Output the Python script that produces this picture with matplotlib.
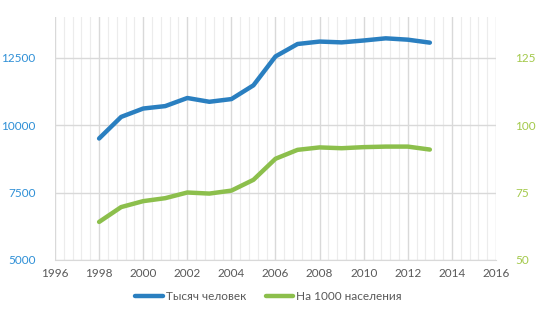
import matplotlib
matplotlib.use("Agg")
import matplotlib.pyplot as plt
from matplotlib.ticker import MultipleLocator

plt.rcParams['font.family'] = ['Lato', 'DejaVu Sans']

years = list(range(1998, 2014))
thousands = [9500, 10300, 10610, 10700, 11000, 10860, 10960, 11470, 12540, 13000,
             13090, 13060, 13130, 13210, 13160, 13050]
per_1000 = [64.1, 69.6, 71.8, 72.9, 75.0, 74.6, 75.7, 79.7, 87.5, 90.8,
            91.7, 91.4, 91.8, 92.0, 92.0, 90.9]
label_a = "Тысяч человек"
label_b = "На 1000 населения"

blue = "#2a7fc0"
green = "#8cbf4c"

fig = plt.figure(figsize=(5.37, 3.23), dpi=100)
ax = fig.add_axes([55/537, 1-260/323, (496-55)/537, (260-17)/323])
ax2 = ax.twinx()

l1, = ax.plot(years, thousands, color=blue, lw=3.2, solid_capstyle='round', zorder=3)
l2, = ax2.plot(years, per_1000, color=green, lw=3.2, solid_capstyle='round', zorder=3)

ax.set_xlim(1996, 2016)
ax.set_ylim(5000, 14000)
ax2.set_ylim(50, 140)
ax.xaxis.set_major_locator(MultipleLocator(2))
ax.xaxis.set_minor_locator(MultipleLocator(0.4))
ax.yaxis.set_major_locator(MultipleLocator(2500))
ax2.yaxis.set_major_locator(MultipleLocator(25))

ax.grid(True, which='major', color='#d9d9d9', lw=1.0)
ax.grid(True, which='minor', axis='x', color='#ececec', lw=0.8)
ax.set_axisbelow(True)

for a in (ax, ax2):
    for s in a.spines.values():
        s.set_visible(False)
ax.spines['bottom'].set_visible(True)
ax.spines['bottom'].set_color('#d9d9d9')

ax.tick_params(axis='both', which='both', length=0)
ax2.tick_params(axis='both', which='both', length=0)
ax.tick_params(axis='x', colors='#595959', labelsize=8.5, pad=6)
ax.tick_params(axis='y', colors='#2e8fd6', labelsize=8.5, pad=14)
ax2.tick_params(axis='y', colors='#a3c94a', labelsize=8.5, pad=14)
ax.set_yticks([5000, 7500, 10000, 12500])
ax2.set_yticks([50, 75, 100, 125])

fig.legend([l1, l2], [label_a, label_b], loc='center', bbox_to_anchor=(0.5, 1-297/323),
           ncol=2, frameon=False, fontsize=8.5, handlelength=2.3, columnspacing=1.7,
           handletextpad=0.25, labelcolor='#595959')

fig.savefig("out.png", dpi=100)
